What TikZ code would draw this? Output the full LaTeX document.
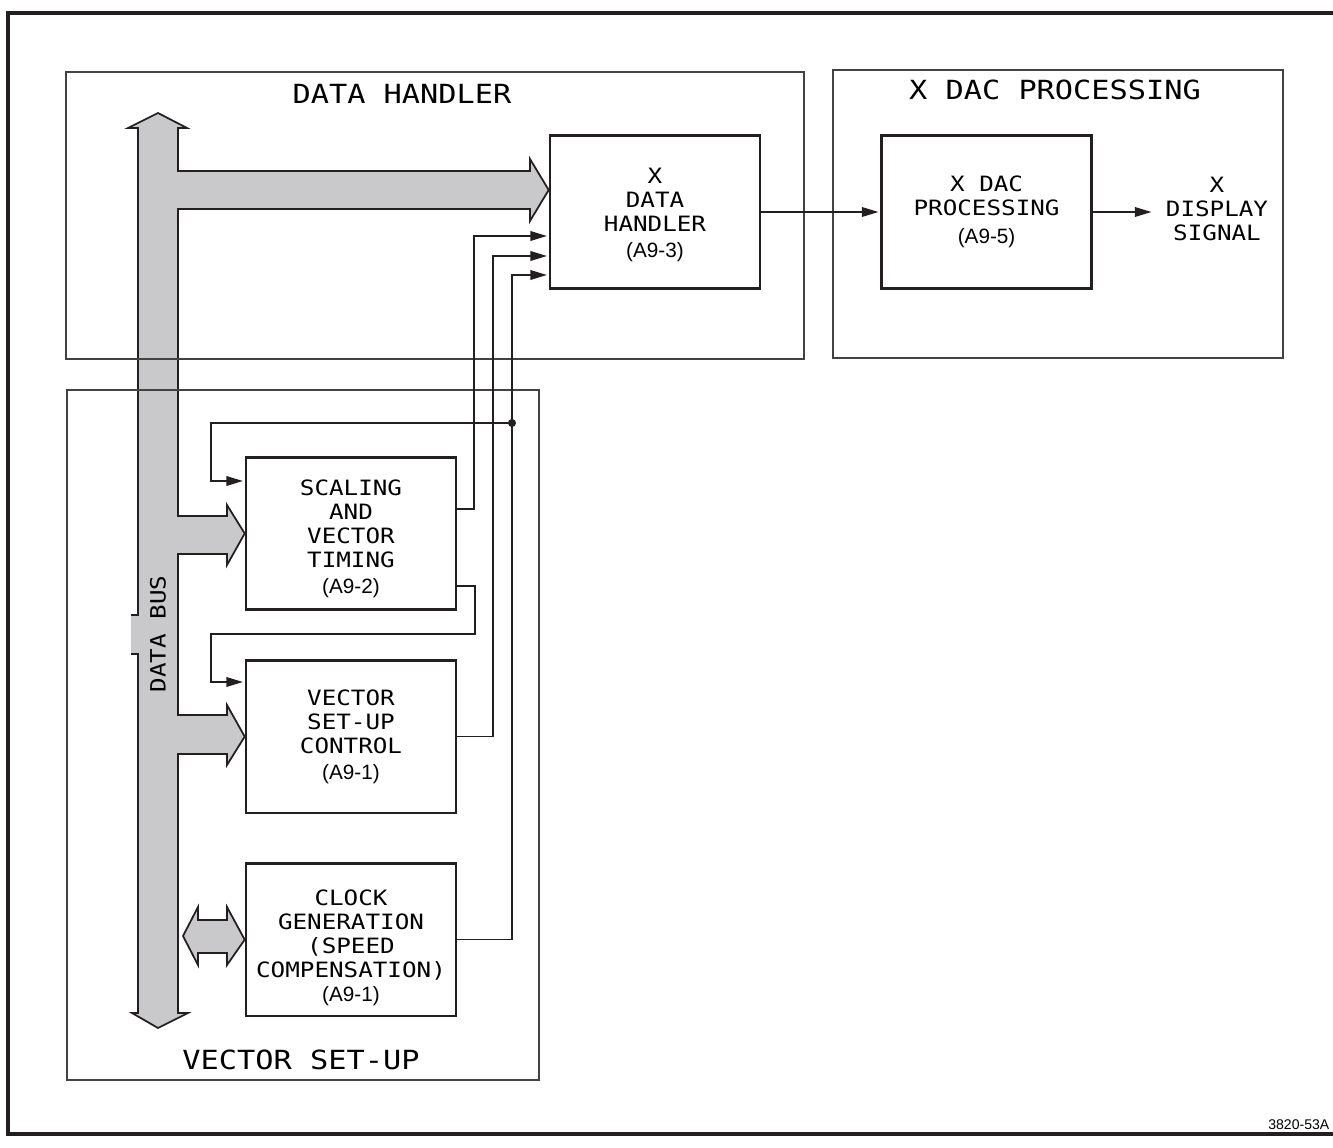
\documentclass[tikz,border=0pt]{standalone}
\usepackage{fontspec}
\usepackage{tikz}
\usetikzlibrary{arrows.meta, positioning, calc}
\newfontfamily\lettering[FakeStretch=1.15]{DejaVu Sans Mono}
\newfontfamily\helv{Liberation Sans}
\newcommand{\boardref}[1]{{\helv\fontsize{11.8}{13}\selectfont(#1)}}
\newcommand{\dropby}[1]{\rule{0pt}{#1}}
\definecolor{busgray}{RGB}{201,201,204}
\definecolor{inkline}{RGB}{35,31,32}
\tikzset{
  block/.style={rectangle, draw=inkline, line width=1.5pt, minimum width=4.2cm, minimum height=3.05cm, align=center, font=\lettering\fontsize{12}{13.7}\selectfont},
  zone/.style={draw=inkline!85, line width=0.8pt},
  zonetitle/.style={inner sep=0pt, font=\lettering\fontsize{15}{17}\selectfont},
  sigtext/.style={align=center, inner sep=0pt, inner xsep=7pt, font=\lettering\fontsize{12}{13.7}\selectfont},
  bus/.style={fill=busgray, draw=inkline, line width=1pt},
  wire/.style={-{Triangle[length=9.5pt,width=5.5pt]}, line width=0.9pt, draw=inkline, shorten >=1pt},
}
\begin{document}
\begin{tikzpicture}[x=0.02cm, y=-0.02cm, node distance=0.96cm and 2.38cm]
\useasboundingbox (0,0) rectangle (1333,1148);
\draw[line width=2.2pt, draw=inkline] (1345,13) -| (8,1134) -- (1345,1134);

\node[block] (xdh) at (655,212) {\dropby{12pt}X\\DATA\\HANDLER\\[1pt]\boardref{A9-3}};
\node[block, right=of xdh] (xdac) {X DAC\\PROCESSING\\[2pt]\boardref{A9-5}};
\node[sigtext] (sig) at (1217,209) {X\\DISPLAY\\SIGNAL};
\node[block] (scal) at (351,533.5) {\dropby{15pt}SCALING\\AND\\VECTOR\\TIMING\\[1pt]\boardref{A9-2}};
\node[block, below=of scal] (vsc) {VECTOR\\SET-UP\\CONTROL\\[1pt]\boardref{A9-1}};
\node[block, below=of vsc] (clk) {\dropby{18pt}CLOCK\\GENERATION\\(SPEED\\COMPENSATION)\\[0pt]\boardref{A9-1}};

\filldraw[bus] (131,654) -- (138,654) -- (138,1013) -- (132,1013) -- (158,1028) -- (188,1013) -- (178,1013)
  -- (178,754) -- (227,754) -- (227,765) -- (vsc.west) -- (227,705) -- (227,715) -- (178,715)
  -- (178,554) -- (227,554) -- (227,565) -- (scal.west) -- (227,505) -- (227,516) -- (178,516)
  -- (178,209) -- (530,209) -- (530,221) -- (xdh.west |- 0,190) -- (530,159) -- (530,171) -- (178,171)
  -- (178,128) -- (187,128) -- (158,113) -- (128,128) -- (138,128) -- (138,615) -- (131,615);
\filldraw[bus] (183,936) -- (198,907) -- (198,920) -- (227,920) -- (227,907) -- (clk.west)
  -- (227,965) -- (227,953) -- (198,953) -- (198,965) -- cycle;
\node[font=\lettering\fontsize{12}{14}\selectfont, rotate=90] (buslbl) at (158,634) {DATA BUS};

\draw[zone] (66,72) rectangle (804,359);
\draw[zone] (833,70) rectangle (1283,358);
\draw[zone] (67,390) rectangle (539,1080);
\node[zonetitle] (dhtitle) at (402,94) {DATA HANDLER};
\node[zonetitle] (dactitle) at (1055,90) {X DAC PROCESSING};
\node[zonetitle] (vsutitle) at (301,1060) {VECTOR SET-UP};

\coordinate (jn) at (512,423);
\draw[wire] (xdh.east) -- (xdh.east -| xdac.west);
\draw[wire] (xdac.east) -- (xdac.east -| sig.west);
\draw[wire] (scal.east |- 0,509) -| (474,236) -- (xdh.west |- 0,236);
\draw[wire] (vsc.east) -| (493,256) -- (xdh.west |- 0,256);
\draw[wire] (clk.east) -| (jn) |- (xdh.west |- 0,275);
\draw[wire] (jn) -| (211,481) -- (scal.west |- 0,481);
\draw[wire] (scal.east |- 0,586) -| (475,634) -| (211,682) -- (vsc.west |- 0,682);
\fill[inkline] (jn) circle[radius=2.3pt];

\node[anchor=west, inner sep=0pt, font=\helv\fontsize{8}{9}\selectfont] (fignum) at (1268,1125) {3820-53A};
\end{tikzpicture}
\end{document}
